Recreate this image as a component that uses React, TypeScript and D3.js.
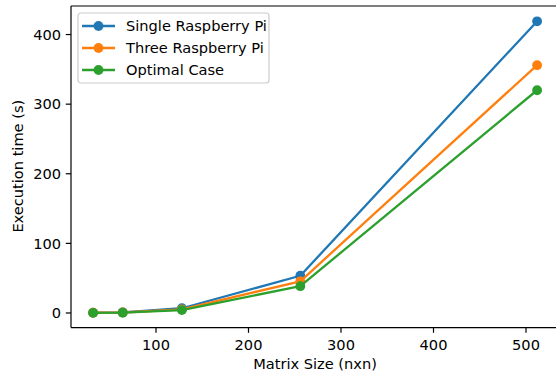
import { useRef, useEffect } from 'react';
import * as d3 from 'd3';

const matrixSizes = [32, 64, 128, 256, 512];
const singlePi = [0.5, 1.0, 6.8, 53.5, 419];
const threePi = [0.3, 0.7, 5.2, 45.5, 356];
const optimal = [0.2, 0.4, 4.2, 38.5, 320];
const xTicks = [100, 200, 300, 400, 500];
const yTicks = [0, 100, 200, 300, 400];

const series = [
  { name: 'Single Raspberry Pi', values: singlePi, color: '#1f77b4' },
  { name: 'Three Raspberry Pi', values: threePi, color: '#ff7f0e' },
  { name: 'Optimal Case', values: optimal, color: '#2ca02c' },
];

export default function App() {
  const svgRef = useRef<SVGSVGElement>(null);

  useEffect(() => {
    if (!svgRef.current) return;
    const svg = d3.select(svgRef.current);
    svg.selectAll('*').remove();

    const width = 556;
    const height = 375;
    const left = 71;
    const top = 6;
    const bottom = 327.6;
    const font = 'DejaVu Sans, sans-serif';
    const fs = 14.6;
    const lw = 2.3;
    const mr = 4.9;
    const tickLen = 5.2;

    // x: 100 -> 156, 500 -> 526 (right spine falls outside the image)
    const x = d3.scaleLinear().domain([100, 500]).range([156, 526]);
    const y = d3.scaleLinear().domain([-21, 441]).range([bottom, top]);
    const right = x(536);

    svg.attr('width', width).attr('height', height).style('display', 'block');
    svg.append('rect').attr('width', width).attr('height', height).attr('fill', '#fff');

    const g = svg.append('g');

    const line = d3.line<number>()
      .x((_, i) => x(matrixSizes[i]))
      .y((d) => y(d));

    series.forEach((s) => {
      g.append('path')
        .datum(s.values)
        .attr('fill', 'none')
        .attr('stroke', s.color)
        .attr('stroke-width', lw)
        .attr('stroke-linejoin', 'round')
        .attr('stroke-linecap', 'square')
        .attr('d', line);
      g.selectAll(null)
        .data(s.values)
        .enter()
        .append('circle')
        .attr('cx', (_, i) => x(matrixSizes[i]))
        .attr('cy', (d) => y(d))
        .attr('r', mr)
        .attr('fill', s.color);
    });

    // spines
    const sw = 1.2;
    g.append('line').attr('x1', left).attr('x2', left).attr('y1', top).attr('y2', bottom)
      .attr('stroke', '#000').attr('stroke-width', sw);
    g.append('line').attr('x1', left).attr('x2', right).attr('y1', bottom).attr('y2', bottom)
      .attr('stroke', '#000').attr('stroke-width', sw);
    g.append('line').attr('x1', left).attr('x2', right).attr('y1', top).attr('y2', top)
      .attr('stroke', '#000').attr('stroke-width', sw);

    // x ticks
    xTicks.forEach((t) => {
      g.append('line').attr('x1', x(t)).attr('x2', x(t)).attr('y1', bottom).attr('y2', bottom + tickLen)
        .attr('stroke', '#000').attr('stroke-width', sw);
      g.append('text').attr('x', x(t)).attr('y', 350)
        .attr('text-anchor', 'middle').attr('font-family', font).attr('font-size', fs)
        .text(t);
    });

    // y ticks
    yTicks.forEach((t) => {
      g.append('line').attr('x1', left - tickLen).attr('x2', left).attr('y1', y(t)).attr('y2', y(t))
        .attr('stroke', '#000').attr('stroke-width', sw);
      g.append('text').attr('x', left - 10).attr('y', y(t)).attr('dy', '0.36em')
        .attr('text-anchor', 'end').attr('font-family', font).attr('font-size', fs)
        .text(t);
    });

    // axis labels
    g.append('text').attr('x', 315).attr('y', 369)
      .attr('text-anchor', 'middle').attr('font-family', font).attr('font-size', fs)
      .text('Matrix Size (nxn)');
    g.append('text')
      .attr('transform', 'translate(22.5,166.2) rotate(-90)')
      .attr('text-anchor', 'middle').attr('font-family', font).attr('font-size', fs)
      .text('Execution time (s)');

    // legend
    const legend = g.append('g').attr('transform', 'translate(78,13)');
    legend.append('rect').attr('width', 191).attr('height', 70).attr('rx', 3)
      .attr('fill', '#fff').attr('fill-opacity', 0.8).attr('stroke', '#ccc').attr('stroke-width', 1.2);
    series.forEach((s, i) => {
      const ly = 13 + i * 22;
      legend.append('line').attr('x1', 4).attr('x2', 37).attr('y1', ly).attr('y2', ly)
        .attr('stroke', s.color).attr('stroke-width', lw);
      legend.append('circle').attr('cx', 20.5).attr('cy', ly).attr('r', mr).attr('fill', s.color);
      legend.append('text').attr('x', 48).attr('y', ly).attr('dy', '0.36em')
        .attr('font-family', font).attr('font-size', fs).text(s.name);
    });
  }, []);

  return (
    <div style={{ position: 'fixed', left: 0, top: 0 }}>
      <svg ref={svgRef} />
    </div>
  );
}
